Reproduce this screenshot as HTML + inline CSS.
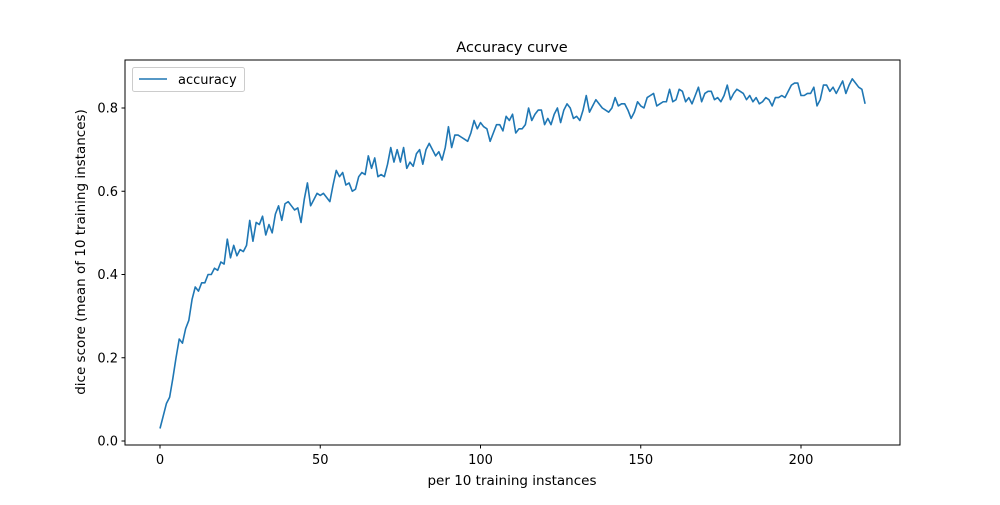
<!DOCTYPE html>
<html><head><meta charset="utf-8"><style>
body{margin:0;background:#fff}
text{font-family:"DejaVu Sans","Liberation Sans",sans-serif;fill:#000}
</style></head><body>
<svg id="chart" width="1000" height="500" xmlns="http://www.w3.org/2000/svg">
<rect width="1000" height="500" fill="#fff"/>
<text x="512" y="52" font-size="14.5" text-anchor="middle">Accuracy curve</text>
<g id="ticks"></g>
<polyline id="line" fill="none" stroke="#1f77b4" stroke-width="1.6" stroke-linejoin="round"/>
<rect x="125" y="60" width="775" height="385" fill="none" stroke="#000" stroke-width="1"/>
<text x="512" y="485" font-size="13.5" text-anchor="middle">per 10 training instances</text>
<text transform="translate(85,252) rotate(-90)" font-size="13.5" text-anchor="middle">dice score (mean of 10 training instances)</text>
<g>
<rect x="132.5" y="67.5" width="112" height="24" rx="2" fill="#fff" stroke="#ccc"/>
<line x1="139" y1="79" x2="167" y2="79" stroke="#1f77b4" stroke-width="1.6"/>
<text x="178" y="84" font-size="13">accuracy</text>
</g>
</svg>
<script>
const xTicks=[0,50,100,150,200];
const yTicks=[0.0,0.2,0.4,0.6,0.8];
const yTickLabels=["0.0","0.2","0.4","0.6","0.8"];
const accuracy=[0.03,0.06,0.09,0.105,0.15,0.20,0.245,0.235,0.27,0.29,0.34,0.37,0.36,0.38,0.38,0.40,0.40,0.415,0.41,0.43,0.425,0.485,0.44,0.47,0.445,0.46,0.455,0.47,0.53,0.48,0.525,0.52,0.54,0.495,0.52,0.50,0.545,0.565,0.53,0.57,0.575,0.565,0.555,0.56,0.525,0.58,0.62,0.565,0.58,0.595,0.59,0.595,0.585,0.575,0.615,0.65,0.635,0.645,0.615,0.62,0.60,0.605,0.635,0.645,0.64,0.685,0.655,0.68,0.635,0.64,0.635,0.665,0.705,0.67,0.70,0.67,0.705,0.655,0.67,0.66,0.69,0.70,0.665,0.70,0.715,0.70,0.685,0.695,0.675,0.705,0.755,0.705,0.735,0.735,0.73,0.725,0.72,0.74,0.77,0.75,0.765,0.755,0.75,0.72,0.74,0.76,0.76,0.745,0.78,0.77,0.785,0.74,0.75,0.75,0.76,0.80,0.77,0.785,0.795,0.795,0.76,0.775,0.76,0.785,0.80,0.765,0.795,0.81,0.80,0.775,0.78,0.77,0.795,0.83,0.79,0.805,0.82,0.81,0.80,0.795,0.79,0.80,0.825,0.805,0.81,0.81,0.795,0.775,0.79,0.815,0.805,0.80,0.825,0.83,0.835,0.805,0.81,0.815,0.815,0.845,0.815,0.82,0.845,0.84,0.815,0.825,0.81,0.83,0.85,0.815,0.835,0.84,0.84,0.82,0.825,0.815,0.83,0.855,0.82,0.835,0.845,0.84,0.835,0.82,0.83,0.815,0.825,0.81,0.815,0.825,0.82,0.805,0.825,0.825,0.83,0.825,0.84,0.855,0.86,0.86,0.83,0.83,0.835,0.835,0.85,0.805,0.82,0.855,0.855,0.84,0.85,0.835,0.85,0.865,0.835,0.855,0.87,0.86,0.85,0.845,0.81];
const X=v=>160+v*(801-160)/200;
const Y=v=>441-v*(441-108)/0.8;
const NS="http://www.w3.org/2000/svg";
const g=document.getElementById('ticks');
function mk(t,a){const e=document.createElementNS(NS,t);for(const k in a)e.setAttribute(k,a[k]);g.appendChild(e);return e;}
xTicks.forEach(t=>{
  const l=mk('line',{x1:X(t),x2:X(t),y1:445,y2:448.5,stroke:'#000'});
  
  
  const tx=mk('text',{x:X(t),y:464,'font-size':13,'text-anchor':'middle'});
  tx.textContent=t;
  
  
});
yTicks.forEach((t,i)=>{
  const l=mk('line',{x1:121.5,x2:125,y1:Y(t),y2:Y(t),stroke:'#000'});
  
  
  const tx=mk('text',{x:118,y:Y(t)+4.5,'font-size':13,'text-anchor':'end'});
  tx.textContent=yTickLabels[i];
  
  
});
document.getElementById('line').setAttribute('points',accuracy.map((v,i)=>X(i).toFixed(2)+','+Y(v).toFixed(2)).join(' '));
</script>
</body></html>
